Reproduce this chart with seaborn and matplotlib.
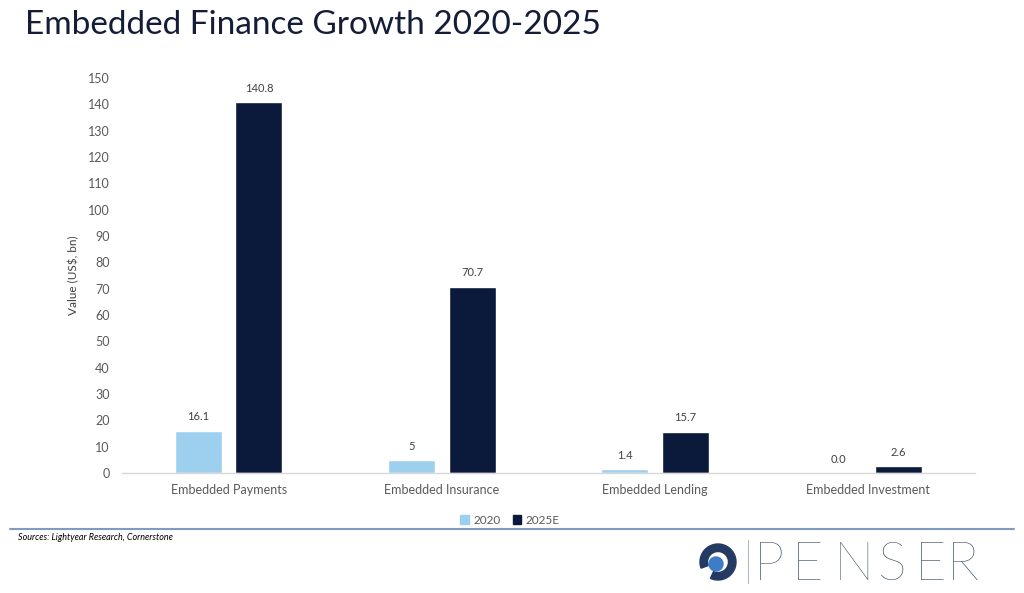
import matplotlib
matplotlib.use("Agg")
import matplotlib.pyplot as plt
import matplotlib.patches as mpatches
import seaborn as sns
import pandas as pd

categories = ["Embedded Payments", "Embedded Insurance", "Embedded Lending", "Embedded Investment"]
series_names = ["2020", "2025E"]
values_2020 = [16.1, 5.0, 1.4, 0.0]
values_2025 = [140.8, 70.7, 15.7, 2.6]
labels_2020 = ["16.1", "5", "1.4", "0.0"]
labels_2025 = ["140.8", "70.7", "15.7", "2.6"]
y_ticks = list(range(0, 151, 10))

df = pd.DataFrame({
    "category": categories * 2,
    "series": [series_names[0]] * 4 + [series_names[1]] * 4,
    "value": values_2020 + values_2025,
})

sns.set_theme(style="white")
plt.rcParams["font.family"] = ["Lato", "DejaVu Sans"]

W, H = 1024, 593
fig = plt.figure(figsize=(10.24, 5.93), dpi=100)
ax = fig.add_axes([122 / W, 1 - 473 / H, 853 / W, 395 / H])

palette = {"2020": "#9DCFEE", "2025E": "#0B1A3A"}
sns.barplot(data=df, x="category", y="value", hue="series", palette=palette,
            width=0.568, gap=0.225, ax=ax, legend=False, saturation=1)

for cont, labs in zip(ax.containers, [labels_2020, labels_2025]):
    ax.bar_label(cont, labels=labs, padding=6, fontsize=8, color="#404040")

ax.set_ylim(0, 150)
ax.set_xlim(-0.5, 3.5)
ax.set_yticks(y_ticks)
ax.tick_params(axis="y", labelsize=9, colors="#595959", pad=9, length=0)
ax.tick_params(axis="x", labelsize=9, colors="#595959", pad=8, length=0)
ax.set_xlabel("")
ax.set_ylabel("Value (US$, bn)", fontsize=8.5, color="#404040", labelpad=6)
for s in ["top", "right", "left"]:
    ax.spines[s].set_visible(False)
ax.spines["bottom"].set_color("#D9D9D9")
ax.spines["bottom"].set_linewidth(1)

fig.text(25 / W, 1 - 25 / H, "Embedded Finance Growth 2020-2025", fontsize=24,
         color="#141C38", va="center", ha="left")

handles = [mpatches.Patch(color=palette[s], label=s) for s in series_names]
fig.legend(handles=handles, loc="center", bbox_to_anchor=(510 / W, 1 - 520 / H),
           ncol=2, frameon=False, fontsize=8.5, handlelength=0.7, handleheight=0.7,
           handletextpad=0.4, columnspacing=1.0, labelcolor="#595959")

fig.add_artist(plt.Line2D([10 / W, 1014 / W], [1 - 529 / H] * 2,
                          transform=fig.transFigure, color="#7F9BC0", lw=1.5))
fig.text(18 / W, 1 - 538 / H, "Sources: Lightyear Research, Cornerstone",
         fontsize=6.5, style="italic", color="#000000", va="center", ha="left")

# logo mark in a small equal-aspect axes (pixel units)
lax = fig.add_axes([696 / W, 1 - 584 / H, 44 / W, 44 / H])
lax.set_xlim(0, 44)
lax.set_ylim(0, 44)
lax.set_aspect("equal")
lax.axis("off")
lax.add_patch(mpatches.Wedge((22, 22), 18, 245, 200, width=7.5, color="#243A63"))
lax.add_patch(mpatches.Circle((20, 20), 7, color="#3D7CC9"))

fig.add_artist(plt.Line2D([748 / W] * 2, [1 - 540 / H, 1 - 583 / H],
                          transform=fig.transFigure, color="#B0B8C4", lw=0.8))
logo_letters = ["P", "E", "N", "S", "E", "R"]
logo_x = [754, 792, 834, 878, 915, 947]
for ch, lx in zip(logo_letters, logo_x):
    fig.text(lx / W, 1 - 580 / H, ch, fontsize=39, fontweight="light",
             color="#2C3E5C", va="baseline", ha="left")

fig.savefig("out.png", dpi=100)
